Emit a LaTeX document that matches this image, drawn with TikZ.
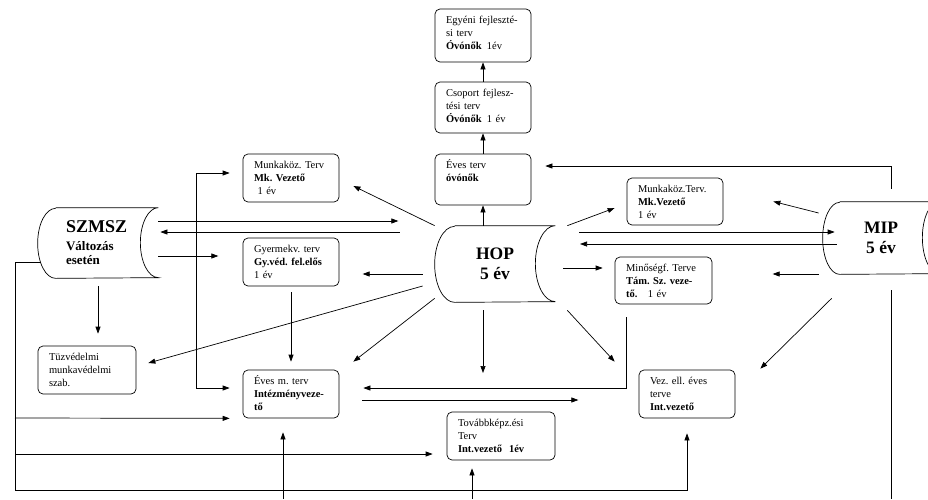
\documentclass[tikz,border=0pt]{standalone}
\usepackage{fontspec}
\setmainfont{Liberation Serif}
\usetikzlibrary{arrows.meta}

\tikzset{
  terv/.style={draw, rounded corners=5pt, align=left, text width=74pt, inner xsep=11pt,
    inner ysep=3pt, text height=11.5pt, text depth=30.5pt, font=\fontsize{10.5}{13}\selectfont\frenchspacing},
  nagy/.style={align=center, font=\fontsize{17.5}{20}\selectfont\bfseries},
}

\begin{document}
\begin{tikzpicture}[x=1pt, y=-1pt, line width=0.7pt, >={Triangle[length=7pt,width=5pt]}]
\useasboundingbox (0,0) rectangle (928,499);
\clip (0,0) rectangle (928,499);

% tárolók
\node[minimum width=84pt, minimum height=70pt, text width=64pt, inner xsep=10pt, inner ysep=3pt,
  text height=21pt, text depth=43pt, align=left,
  font=\fontsize{13}{14}\selectfont\bfseries] (szmsz) at (98,243)
  {{\fontsize{18}{18}\selectfont SZMSZ}\\[4pt] Változás\\ esetén};
\draw (szmsz.north west) -- ([xshift=18pt]szmsz.north east)
  arc[start angle=90, end angle=270, x radius=18pt, y radius=35pt] -- (szmsz.south west)
  arc[start angle=270, end angle=90, x radius=18pt, y radius=35pt];

\node[nagy, minimum width=80pt, minimum height=76pt] (hop) at (495,264) {HOP\\5 év};
\draw (hop.north west) -- ([xshift=20pt]hop.north east)
  arc[start angle=90, end angle=270, x radius=20pt, y radius=38pt] -- (hop.south west)
  arc[start angle=270, end angle=90, x radius=20pt, y radius=38pt];

\node[nagy, minimum width=82pt, minimum height=72pt] (mip) at (881,238) {MIP\\5 év};
\draw (mip.north west) -- ([xshift=17pt]mip.north east)
  arc[start angle=90, end angle=270, x radius=17pt, y radius=36pt] -- (mip.south west)
  arc[start angle=270, end angle=90, x radius=17pt, y radius=36pt];

% tervek
\node[terv, text depth=35.5pt] (egyeni) at (483,35.5) {Egyéni fejleszté-\\si terv\\\textbf{Óvónők}\, 1év};
\node[terv, text depth=33.5pt] (csoport) at (483,107.5) {Csoport fejlesz-\\tési terv\\\textbf{Óvónők}\, 1 év};
\node[terv, text depth=33.5pt] (eves) at (483,179.5) {Éves terv\\\textbf{óvónők}};
\node[terv] (mk1) at (291,178) {Munkaköz. Terv\\\textbf{Mk. Vezető}\\\ 1 év};
\node[terv] (gyerm) at (291,262) {Gyermekv. terv\\\textbf{Gy.véd. fel.elős}\\1 év};
\node[terv, text width=76pt] (tuz) at (87,370) {Tüzvédelmi\\munkavédelmi\\szab.};
\node[terv] (evesm) at (291,394) {Éves m. terv\\\textbf{Intézményveze-}\\\textbf{tő}};
\node[terv, text width=86pt] (tovabb) at (501,436) {Továbbképz.ési\\Terv\\\textbf{Int.vezető\ \ 1év}};
\node[terv] (vez) at (687,394) {Vez. ell. éves\\terve\\\textbf{Int.vezető}};
\node[terv, text depth=29.5pt] (mk2) at (675,201.5) {Munkaköz.Terv.\\\textbf{Mk.Vezető}\\1 év};
\node[terv, text width=75pt, text depth=29.5pt] (minos) at (663.5,280.5) {Minőségf. Terve\\\textbf{Tám. Sz. veze-}\\\textbf{tő.}\quad 1 év};

% SZMSZ
\draw[->] (szmsz.north east |- 0,221) ++(18,0) -- ++(240,0);
\draw[<-] (szmsz.north east |- 0,232) ++(20,0) -- ++(240,0);
\draw[->] (szmsz.north east |- 0,256) ++(18,0) -- ++(60,0);
\draw[->, shorten <=8pt, shorten >=12pt] (szmsz.south) -- (szmsz.south |- tuz.north);
\draw[->] ([xshift=-15pt,yshift=-19pt]szmsz.west) -- (15,262) |- (vez.south |- 0,490)
  -- ([yshift=-15pt]vez.south);
\draw[->] (15,418) -- ([xshift=-13pt]evesm.south west);
\draw[->, shorten >=14pt] (15,454) -- (tovabb.west |- 0,454);
\draw[<->] ([xshift=-13pt,yshift=5pt]mk1.west) -| (196,388) -- ([xshift=-13pt,yshift=6pt]evesm.west);
\draw[->, shorten <=6pt, shorten >=8pt] (gyerm.south) -- (evesm.north);

% HOP
\draw[->] (eves.south |- hop.north) -- (eves.south);
\draw[->] (eves.north) -- (csoport.south);
\draw[->] (csoport.north) -- (egyeni.south);
\draw[->] ([xshift=-20pt]hop.north west) -- ([xshift=14pt,yshift=-8pt]mk1.east);
\draw[->] ([xshift=-32pt,yshift=-10pt]hop.west) -- ++(-60,0);
\draw[->] ([xshift=-32pt,yshift=-22pt]hop.west) -- ([xshift=12pt,yshift=7pt]tuz.east);
\draw[->] ([xshift=-20pt,yshift=4pt]hop.south west) -- ([xshift=14pt,yshift=8pt]evesm.north east);
\draw[->] (eves.south |- 0,310) -- (eves.south |- 0,373);
\draw[->] ([xshift=32pt,yshift=-8pt]hop.south east) -- ([xshift=-24pt,yshift=8pt]vez.north west);
\draw[->] ([xshift=32pt]hop.north east) -- ([xshift=-12pt,yshift=-6.5pt]mk2.west);
\draw[->] (579,232) -- ([xshift=-5pt]mip.west |- 0,232);
\draw[<-] (580,244) -- ([xshift=-3pt]mip.west |- 0,244);
\draw[->] ([xshift=28pt,yshift=-4pt]hop.east) -- ([xshift=-12pt,yshift=12.5pt]minos.west);
\draw[->] ([xshift=12pt,yshift=-13pt]minos.south west) |- ([xshift=24pt,yshift=6pt]evesm.east);
\draw[->] ([xshift=23pt,yshift=-6pt]evesm.east) -- ++(216,0);
\draw[<-] ([xshift=-8pt,yshift=-14pt]evesm.south) -- ++(0,67);
\draw[<-] ([xshift=-29pt,yshift=-8pt]tovabb.south) -- ++(0,31);

% MIP
\draw[->] ([xshift=10pt,yshift=13pt]mip.north) |- ([xshift=14pt,yshift=13.5pt]eves.east);
\draw ([xshift=10pt,yshift=-16pt]mip.south) -- ++(0,209);
\draw[->] ([xshift=-21pt,yshift=25pt]mip.west) -- ([xshift=50pt]mk2.east);
\draw[->] ([xshift=-21pt,yshift=-36pt]mip.west) -- ++(-46,0);
\draw[->] ([xshift=-8pt,yshift=-24pt]mip.south west) -- ([xshift=25pt,yshift=1pt]vez.north east);

\end{tikzpicture}
\end{document}
